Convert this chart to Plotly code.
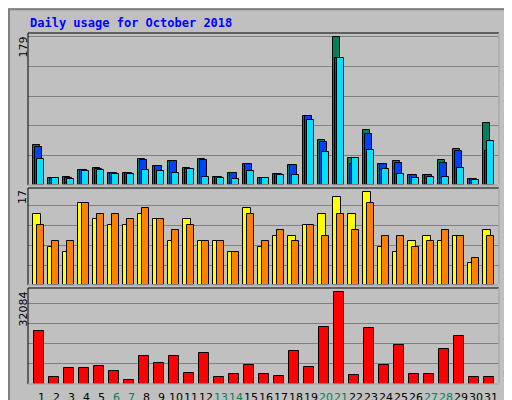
import plotly.graph_objects as go

days = list(range(1, 32))
hits = [48,9,10,18,20,15,15,31,23,29,20,32,10,14,26,9,13,24,83,54,179,33,66,26,29,12,12,30,43,7,75]
files = [46,9,9,18,19,15,15,30,23,29,19,30,10,14,26,9,13,24,83,52,153,26,62,26,27,12,12,27,41,7,41]
pages = [31,8,7,17,18,13,13,18,17,15,19,10,9,7,17,8,12,12,79,40,153,33,42,19,13,9,10,10,21,6,53]
visits = [13,7,6,15,12,11,11,13,12,8,12,8,8,6,14,7,9,9,11,13,16,13,17,7,6,8,9,8,9,4,10]
sites = [11,8,8,15,13,13,12,14,12,10,11,8,8,6,13,8,10,8,11,9,13,10,15,9,9,7,8,10,9,5,9]
kbytes = [18385,2576,5738,5738,6440,4684,1522,9954,7494,9954,3981,11007,2576,3630,6792,3630,2927,
          11710,6089,19790,32084,3279,19439,6792,13818,3630,3630,12413,16628,2576,2576]
weekend = {6,7,13,14,20,21,27,28}

fig = go.Figure()
def bars(y, color, off, w, ax):
    fig.add_trace(go.Bar(x=days, y=y, offset=off, width=w, marker_color=color,
                         marker_line_color="black", marker_line_width=1,
                         xaxis=ax[0], yaxis=ax[1], showlegend=False, hoverinfo="y"))

bars(hits, "#00805C", -0.333, 0.467, ("x", "y"))
bars(files, "#0040FF", -0.2, 0.467, ("x", "y"))
bars(pages, "#00E0FF", -0.067, 0.467, ("x", "y"))
bars(visits, "#FFFF00", -0.333, 0.53, ("x2", "y2"))
bars(sites, "#FF8000", -0.067, 0.467, ("x2", "y2"))
bars(kbytes, "#FF0000", -0.267, 0.67, ("x3", "y3"))

xr = [0.333, 31.73]
common_x = dict(range=xr, showgrid=False, zeroline=False, showline=False, fixedrange=True,
                showticklabels=False, automargin=False, domain=[20/512, 491/512])
common_y = dict(showticklabels=False, gridcolor="#808080", zeroline=False, fixedrange=True, automargin=False)
fig.update_layout(
    width=512, height=400, margin=dict(l=0, r=0, t=0, b=0, autoexpand=False),
    paper_bgcolor="#C0C0C0", plot_bgcolor="#C0C0C0", barmode="overlay", bargap=0,
    font=dict(family="DejaVu Sans", size=11, color="black"),
    xaxis=dict(**common_x, anchor="y"),
    xaxis2=dict(**common_x, anchor="y2"),
    xaxis3=dict(**common_x, anchor="y3"),
    yaxis=dict(**common_y, domain=[1-177/400, 1-25/400], range=[0, 183.8], dtick=35.8),
    yaxis2=dict(**common_y, domain=[1-277/400, 1-180/400], range=[0, 17.73], dtick=3.65),
    yaxis3=dict(**common_y, domain=[1-376/400, 1-280/400], range=[0, 33590], dtick=7007),
)

shapes = [dict(type="rect", xref="paper", yref="paper", x0=0.002, x1=0.998, y0=0.003, y1=0.997,
               line=dict(color="#808080", width=2))]
for top, bot in [(25, 177), (180, 277), (280, 376)]:
    y0, y1 = 1-bot/400, 1-top/400
    x0, x1 = 20/512, 491/512
    shapes.append(dict(type="rect", xref="paper", yref="paper", x0=x0, x1=x1, y0=y0, y1=y1,
                       line=dict(color="black", width=1)))
    shapes.append(dict(type="line", xref="paper", yref="paper", x0=x1, x1=x1, y0=y0, y1=y1,
                       line=dict(color="white", width=1)))
    shapes.append(dict(type="line", xref="paper", yref="paper", x0=x0, x1=x1, y0=y0, y1=y0,
                       line=dict(color="white", width=1)))
fig.update_layout(shapes=shapes)

mono = "DejaVu Sans Mono"
anns = [
    dict(text="<b>Daily usage for October 2018</b>", x=20/512, y=1-15/400, xanchor="left", yanchor="middle",
         font=dict(family=mono, size=12, color="#0000FF")),
    dict(text="179", x=15/512, y=1-27/400, xanchor="center", yanchor="top", textangle=-90, font=dict(size=11)),
    dict(text="17", x=15/512, y=1-180/400, xanchor="center", yanchor="top", textangle=-90, font=dict(size=11)),
    dict(text="32084", x=15/512, y=1-282/400, xanchor="center", yanchor="top", textangle=-90, font=dict(size=11)),
    dict(text="<span style='color:#00E0FF'>Pages</span> / <span style='color:#0040FF'>Files</span> / <span style='color:#00805C'>Hits</span>",
         x=500/512, y=1-177/400, xanchor="center", yanchor="bottom", textangle=-90, font=dict(family=mono, size=11, color="black")),
    dict(text="<span style='color:#FF8000'>Sites</span> / <span style='color:#FFFF00'>Visits</span>",
         x=500/512, y=1-277/400, xanchor="center", yanchor="bottom", textangle=-90, font=dict(family=mono, size=11, color="black")),
    dict(text="<span style='color:#FF0000'>KBytes</span>",
         x=500/512, y=1-376/400, xanchor="center", yanchor="bottom", textangle=-90, font=dict(family=mono, size=11)),
]
for a in anns:
    a.update(xref="paper", yref="paper", showarrow=False)
for d in days:
    anns.append(dict(text=str(d), x=d, xref="x3", y=1-389/400, yref="paper", showarrow=False,
                     xanchor="center", yanchor="middle", xshift=3,
                     font=dict(size=11, color="#00805C" if d in weekend else "black")))
fig.update_layout(annotations=anns)

fig.write_html("out.html")
